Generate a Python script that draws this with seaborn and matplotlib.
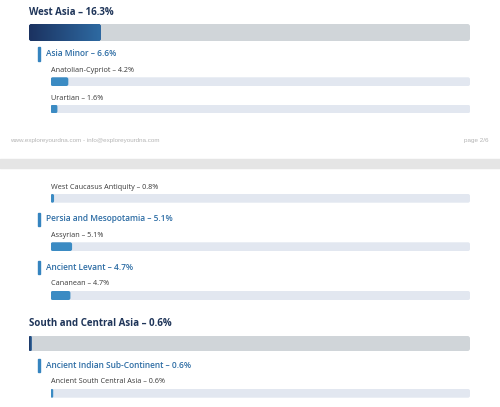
import numpy as np
import matplotlib
matplotlib.use('Agg')
import matplotlib.pyplot as plt
from matplotlib.patches import FancyBboxPatch, Rectangle
import seaborn as sns

# Ancestry breakdown (percent)
regions = ['West Asia', 'South and Central Asia']
region_values = [16.3, 0.6]

subregions = ['Asia Minor', 'Persia and Mesopotamia', 'Ancient Levant',
              'Ancient Indian Sub-Continent']
subregion_values = [6.6, 5.1, 4.7, 0.6]

populations = ['Anatolian-Cypriot', 'Urartian', 'West Caucasus Antiquity',
               'Assyrian', 'Cananean', 'Ancient South Central Asia']
population_values = [4.2, 1.6, 0.8, 5.1, 4.7, 0.6]

footer_left = 'www.exploreyourdna.com - info@exploreyourdna.com'
footer_right = 'page 2/6'

W, H = 500, 407

# row order on the page: (kind, index, text y, bar top, bar bottom) in pixels
rows = [
    ('region', 0, 12.5, 24, 41),
    ('sub', 0, 54, 47, 60.5),
    ('pop', 0, 70.5, 77.3, 86),
    ('pop', 1, 98, 104.7, 113.3),
    ('pop', 2, 187.5, 194, 202.7),
    ('sub', 1, 219, 212.5, 225.5),
    ('pop', 3, 235.5, 242.3, 251),
    ('sub', 2, 268, 261, 274),
    ('pop', 4, 283.5, 291, 300),
    ('region', 1, 324, 336, 351),
    ('sub', 3, 365.5, 359, 372.3),
    ('pop', 5, 381.5, 389, 397.7),
]

NAVY = '#1f3559'
SUB_BLUE = '#2c6ca4'
ACCENT = '#3584bf'
POP_FILL = '#3b8bc3'
POP_TRACK = '#e2e7f0'
BIG_TRACK = '#d0d5d9'
LABEL = '#383838'

sns.set_theme(style='white')
plt.rcParams['font.family'] = ['Open Sans', 'DejaVu Sans']

fig = plt.figure(figsize=(W / 100, H / 100), dpi=100)
fig.patch.set_facecolor('white')


def px_axes(x0, y0, x1, y1):
    return fig.add_axes([x0 / W, 1 - y1 / H, (x1 - x0) / W, (y1 - y0) / H])


def ftext(x, y, s, **kw):
    fig.text(x / W, 1 - y / H, s, **kw)


def round_patches(ax, width_px, height_px, radius_px):
    # swap seaborn's square bars for rounded ones of the same size
    ux = 100 / width_px
    uy = 1 / height_px
    new = []
    for p in list(ax.patches):
        x, y = p.get_x(), p.get_y()
        w, h = p.get_width(), p.get_height()
        r = min(radius_px, w / ux / 2, h / uy / 2)
        fb = FancyBboxPatch((x, y), w, h,
                            boxstyle='round,pad=0,rounding_size=%f' % (r * ux),
                            mutation_aspect=uy / ux,
                            facecolor=p.get_facecolor(), edgecolor='none',
                            zorder=p.get_zorder())
        p.remove()
        ax.add_patch(fb)
        new.append(fb)
    return new


def draw_bar(x0, x1, y0, y1, value, track, fill, radius, gradient=None):
    ax = px_axes(x0, y0, x1, y1)
    sns.barplot(x=[100], y=[0], orient='h', color=track, width=1,
                saturation=1, ax=ax)
    sns.barplot(x=[value], y=[0], orient='h', color=fill, width=1,
                saturation=1, ax=ax)
    ax.set_xlim(0, 100)
    ax.set_ylim(0.5, -0.5)
    ax.axis('off')
    patches = round_patches(ax, x1 - x0, y1 - y0, radius)
    if gradient is not None:
        grad = np.linspace(0, 1, 256).reshape(1, -1)
        cmap = matplotlib.colors.LinearSegmentedColormap.from_list('g', gradient)
        im = ax.imshow(grad, cmap=cmap, aspect='auto',
                       extent=(0, value, 0.5, -0.5), zorder=5)
        im.set_clip_path(patches[-1])
        ax.set_xlim(0, 100)
        ax.set_ylim(0.5, -0.5)


for kind, i, ty, b0, b1 in rows:
    if kind == 'region':
        ftext(29, ty, '%s – %.1f%%' % (regions[i], region_values[i]),
              fontsize=7, fontweight='bold', color=NAVY, va='center')
        draw_bar(29, 470, b0, b1, region_values[i], BIG_TRACK, '#255090', 2.5,
                 gradient=['#1b3260', '#2e6aa2'])
    elif kind == 'sub':
        fig.patches.append(Rectangle((38 / W, 1 - b1 / H), 2.4 / W, (b1 - b0) / H,
                                     transform=fig.transFigure, color=ACCENT))
        ftext(46, ty, '%s – %.1f%%' % (subregions[i], subregion_values[i]),
              fontsize=6, fontweight='semibold', color=SUB_BLUE, va='center')
    else:
        ftext(51, ty, '%s – %.1f%%' % (populations[i], population_values[i]),
              fontsize=5.2, color=LABEL, va='center')
        draw_bar(50.7, 470, b0, b1, population_values[i], POP_TRACK, POP_FILL, 2)

# page break
ftext(10, 140.7, footer_left, fontsize=4.5, color='#b4b4b4', va='center',
      family=['Liberation Sans', 'DejaVu Sans'])
ftext(489, 140.7, footer_right, fontsize=4.5, color='#b4b4b4', va='center',
      ha='right', family=['Liberation Sans', 'DejaVu Sans'])
fig.patches.append(Rectangle((0, 1 - 168.3 / H), 1, 9.3 / H,
                             transform=fig.transFigure, color='#e5e5e5'))

fig.savefig('out.png', dpi=100, facecolor='white')
